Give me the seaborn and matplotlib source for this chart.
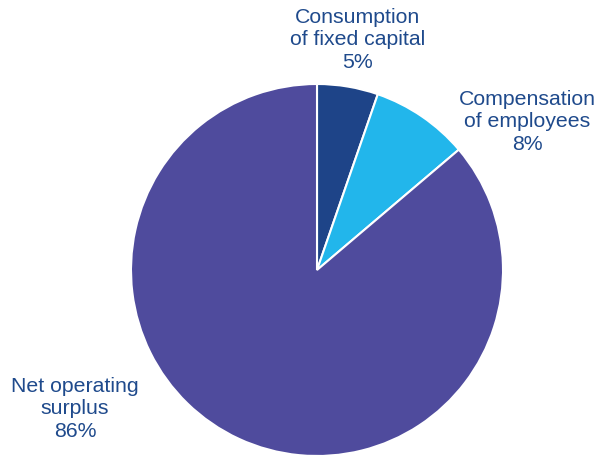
import matplotlib
matplotlib.use("Agg")
import matplotlib.pyplot as plt
import seaborn as sns

sns.set_theme(style="white")
plt.rcParams['font.family'] = ['Liberation Sans', 'DejaVu Sans']

categories = ["Consumption\nof fixed capital", "Compensation\nof employees", "Net operating\nsurplus"]
values = [5.3, 8.5, 86.2]
pct_labels = ["5%", "8%", "86%"]
colors = ["#1E4488", "#22B6EB", "#4F4B9D"]
text_color = "#1F4A8C"

fig = plt.figure(figsize=(5.97, 4.57), dpi=100)
ax = fig.add_axes([131/597, 1/457, 372/597, 372/457])
ax.pie(values, colors=colors, startangle=90, counterclock=False,
       wedgeprops=dict(edgecolor="white", linewidth=1.5))
ax.set_xlim(-1, 1)
ax.set_ylim(-1, 1)
ax.set_aspect("equal")
ax.axis("off")

label_pos = [(0.22, 1.237), (1.129, 0.796), (-1.301, -0.747)]
for (x, y), cat, p in zip(label_pos, categories, pct_labels):
    ax.text(x, y, f"{cat}\n{p}", ha="center", va="center", multialignment="center",
            fontsize=15.3, color=text_color, linespacing=1.22, clip_on=False)

fig.savefig("out.png", dpi=100)
